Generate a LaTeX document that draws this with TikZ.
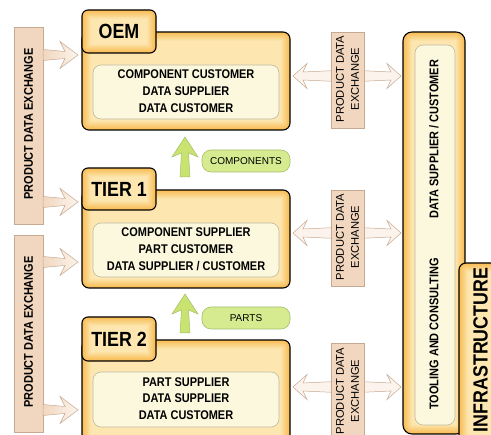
\documentclass[tikz,border=0pt]{standalone}
\usepackage{fontspec}
\setmainfont{Liberation Sans}[FakeStretch=0.87]
\newfontfamily\regfont{Liberation Sans}
\definecolor{orD}{HTML}{F8BC52}
\definecolor{orL}{HTML}{FDE6B0}
\definecolor{creamF}{HTML}{FBF8DD}
\definecolor{creamB}{HTML}{BFBAA2}
\definecolor{tanF}{HTML}{F1D7BF}
\definecolor{tanB}{HTML}{C6A992}
\definecolor{tanL}{HTML}{FCF4EC}
\definecolor{grD}{HTML}{C9E370}
\definecolor{grL}{HTML}{F6FBE2}
\definecolor{grB}{HTML}{A5BE6E}
\definecolor{pillF}{HTML}{D6EB8F}
\newcommand\glowbox[5]{%
  \foreach \i in {0,...,10}{%
    \pgfmathtruncatemacro\pc{\i*10}%
    \pgfmathsetmacro\rr{max(#5-\i*0.9,0.5)}%
    \fill[orL!\pc!orD, rounded corners=\rr pt] ({#1+\i*0.9},{#2+\i*0.9}) rectangle ({#3-\i*0.9},{#4-\i*0.9});
  }%
  \draw[line width=1.1pt, rounded corners=#5 pt] (#1,#2) rectangle (#3,#4);
}
% right arrow: tail x, tip x, centre y
\newcommand\rarrow[3]{%
  \shadedraw[left color=tanF, right color=tanL, draw=tanB, line width=0.5pt]
   (#1,#3-5.5) -- (#2-13,#3-3.5) -- (#2-18,#3-13.5) -- (#2,#3) -- (#2-18,#3+13.5) -- (#2-13,#3+3.5) -- (#1,#3+5.5) -- cycle;
}
% double arrow: left tip, right tip, centre y
\newcommand\darrow[3]{%
  \shadedraw[left color=tanL, middle color=tanF, right color=tanL, draw=tanB, line width=0.5pt]
   (#1,#3) -- (#1+14,#3-12.5) -- (#1+10,#3-4) -- ({(#1+#2)/2},#3-6) -- (#2-10,#3-4) -- (#2-14,#3-12.5) -- (#2,#3)
   -- (#2-14,#3+12.5) -- (#2-10,#3+4) -- ({(#1+#2)/2},#3+6) -- (#1+10,#3+4) -- (#1+14,#3+12.5) -- cycle;
}
% up arrow: centre x, tip y, bottom y
\newcommand\uarrow[3]{%
  \shadedraw[left color=grD, middle color=grL, right color=grD, draw=grB, line width=0.5pt]
   (#1-5,#3) -- (#1-3.5,#2+16) -- (#1-13,#2+20) -- (#1,#2) -- (#1+13,#2+20) -- (#1+3.5,#2+16) -- (#1+5,#3) -- cycle;
}
\tikzset{
  tabtxt/.style={font=\bfseries\fontsize{20.5}{22}\selectfont},
  roletxt/.style={font=\bfseries\fontsize{12.6}{16.8}\selectfont, align=center},
  pdetxt/.style={font=\bfseries\fontsize{12.6}{14}\selectfont, rotate=90},
  midtxt/.style={font=\regfont\fontsize{11.2}{15}\selectfont, rotate=90, align=center},
  pilltxt/.style={font=\regfont\fontsize{10}{12}\selectfont},
  innerbox/.style={fill=creamF, draw=creamB, line width=0.6pt, rounded corners=8pt},
  tanbox/.style={fill=tanF, draw=tanB, line width=0.6pt},
  pillbox/.style={fill=pillF, draw=grB, line width=0.6pt, rounded corners=9pt},
}
\begin{document}
\begin{tikzpicture}[x=1pt,y=-1pt]
\useasboundingbox (0,0) rectangle (491,435);
\clip (0,0) rectangle (491,435);
\fill[white] (0,0) rectangle (491,435);

% left product data exchange bars
\draw[tanbox] (14,27) rectangle (43,224);
\draw[tanbox] (14,235) rectangle (43,432);
\node[pdetxt] (pdeA) at (28.5,124) {PRODUCT DATA EXCHANGE};
\node[pdetxt] (pdeB) at (28.5,332) {PRODUCT DATA EXCHANGE};
\coordinate (la1) at (43,55);
\coordinate (la2) at (43,202);
\coordinate (la3) at (43,262);
\coordinate (la4) at (43,410);
\rarrow{43}{78}{55}
\rarrow{43}{78}{202}
\rarrow{43}{78}{262}
\rarrow{43}{78}{410}

% OEM
\glowbox{82}{32}{290}{130}{7}
\glowbox{82}{10}{156}{53}{6}
\node[tabtxt] (oem) at (119,31) {OEM};
\draw[innerbox] (93,65) rectangle (279,119);
\node[roletxt] (oemroles) at (186,91) {COMPONENT CUSTOMER\\DATA SUPPLIER\\DATA CUSTOMER};

% TIER 1
\glowbox{82}{190}{290}{288}{7}
\glowbox{82}{168}{156}{210}{6}
\node[tabtxt] (tier1) at (119,189) {TIER 1};
\draw[innerbox] (93,223) rectangle (279,277);
\node[roletxt] (t1roles) at (186,249) {COMPONENT SUPPLIER\\PART CUSTOMER\\DATA SUPPLIER / CUSTOMER};

% TIER 2
\glowbox{82}{340}{290}{460}{7}
\glowbox{82}{317}{156}{361}{6}
\node[tabtxt] (tier2) at (119,339) {TIER 2};
\draw[innerbox] (93,372) rectangle (279,427);
\node[roletxt] (t2roles) at (186,398.5) {PART SUPPLIER\\DATA SUPPLIER\\DATA CUSTOMER};

% up arrows and pills
\uarrow{185}{137}{177}
\uarrow{185}{294}{333}
\draw[pillbox] (202,150) rectangle (290,172);
\node[pilltxt] (comp) at (246,161) {COMPONENTS};
\draw[pillbox] (202,307) rectangle (290,329);
\node[pilltxt] (parts) at (246,318) {PARTS};

% double arrows and middle PDE boxes
\darrow{293}{401}{76}
\darrow{293}{401}{233}
\darrow{293}{401}{387}
\draw[tanbox] (331,32) rectangle (364,128);
\draw[tanbox] (331,190) rectangle (364,286);
\draw[tanbox] (331,343) rectangle (364,445);
\node[midtxt] (mid1) at (347.5,79) {PRODUCT DATA\\EXCHANGE};
\node[midtxt] (mid2) at (347.5,237) {PRODUCT DATA\\EXCHANGE};
\node[midtxt] (mid3) at (347.5,391) {PRODUCT DATA\\EXCHANGE};

% right tooling box
\glowbox{403}{32}{465}{434}{9}
\draw[innerbox] (415,45) rectangle (455,425);
\node[pdetxt] (dsc) at (434,139) {DATA SUPPLIER / CUSTOMER};
\node[pdetxt] (tool) at (434,334) {TOOLING AND CONSULTING};

% infrastructure
\glowbox{459}{263}{505}{460}{7}
\node[tabtxt, rotate=90] (infra) at (480.5,350) {INFRASTRUCTURE};
\end{tikzpicture}
\end{document}
